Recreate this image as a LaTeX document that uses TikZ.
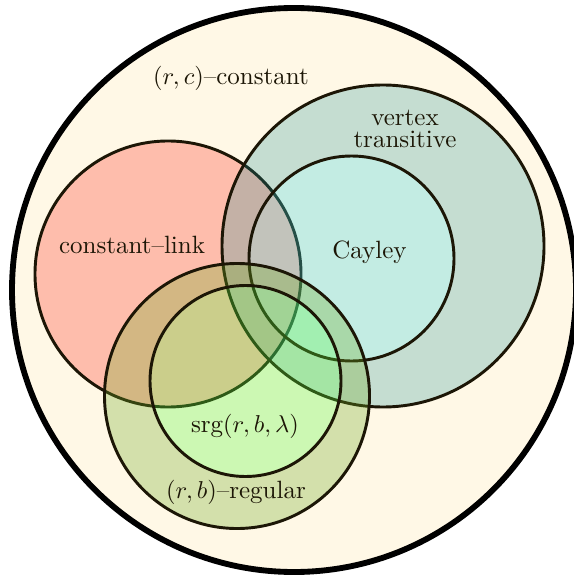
\documentclass[tikz,border=0pt]{standalone}
\usetikzlibrary{positioning}
\definecolor{creambg}{RGB}{255,248,230}
\definecolor{clcol}{RGB}{252,16,0}
\definecolor{vtcol}{RGB}{24,144,150}
\definecolor{caycol}{RGB}{58,211,223}
\definecolor{regcol}{RGB}{112,171,37}
\definecolor{srgcol}{RGB}{88,248,63}
\definecolor{linecol}{RGB}{28,22,6}
\tikzset{
  setline/.style={draw=linecol, line width=1.2pt},
  outerline/.style={draw=black, line width=2.4pt},
  clfill/.style={fill=clcol, fill opacity=0.25},
  vtfill/.style={fill=vtcol, fill opacity=0.25, even odd rule},
  cayfill/.style={fill=caycol, fill opacity=0.3},
  regfill/.style={fill=regcol, fill opacity=0.3, even odd rule},
  srgfill/.style={fill=srgcol, fill opacity=0.3},
  lab/.style={inner sep=0pt, font=\fontsize{10.25}{12.3}\selectfont, text=linecol}
}
\begin{document}
\begin{tikzpicture}[x=0.41pt, y=-0.41pt]
\useasboundingbox (0,0) rectangle (574,581);
\begin{scope}
\clip (0,0) rectangle (574,581);
% centres
\coordinate (outerc) at (294,290);
\coordinate (clc) at (168,274);
\coordinate (vtc) at (383,246);
\coordinate (cayc) at (351.5,258.5);
\coordinate (regc) at (237,396);
\coordinate (srgc) at (245.5,381);
% outer set
\fill[creambg] (outerc) circle[radius=282];
\draw[outerline] (outerc) circle[radius=282];
% constant-link
\fill[clfill] (clc) circle[radius=133];
\draw[setline] (clc) circle[radius=133];
% vertex transitive (ring) and Cayley
\fill[vtfill] (vtc) circle[radius=161] (cayc) circle[radius=102.5];
\draw[setline] (vtc) circle[radius=161];
\fill[cayfill] (cayc) circle[radius=102.5];
\draw[setline] (cayc) circle[radius=102.5];
% (r,b)-regular (ring) and srg
\fill[regfill] (regc) circle[radius=132.5] (srgc) circle[radius=95.5];
\draw[setline] (regc) circle[radius=132.5];
\fill[srgfill] (srgc) circle[radius=95.5];
\draw[setline] (srgc) circle[radius=95.5];
\end{scope}
% labels
\node[lab] (lrc) at (231,78) {$(r,c)$--constant};
\node[lab, align=center] (lvt) at (405,129) {vertex\\[-3pt]transitive};
\node[lab] (lcl) at (132,245) {constant--link};
\node[lab] (lcay) at (369.5,252) {Cayley};
\node[lab] (lsrg) at (245,426) {srg$(r,b,\lambda)$};
\node[lab] (lreg) at (236,492) {$(r,b)$--regular};
\end{tikzpicture}
\end{document}
